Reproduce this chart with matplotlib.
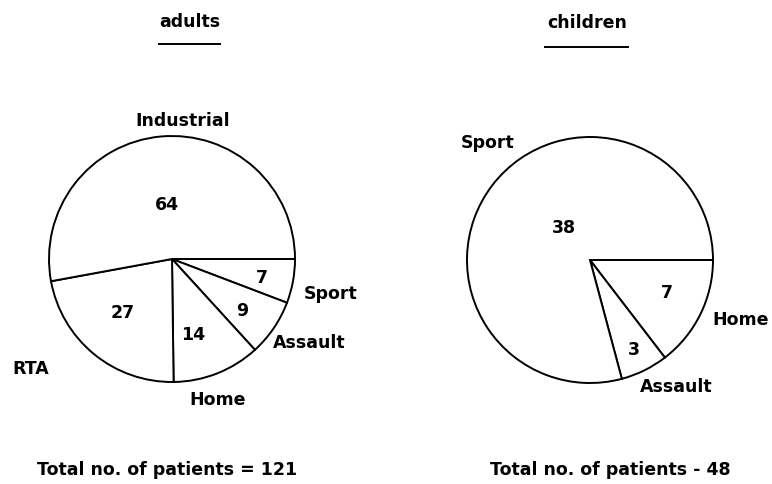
import matplotlib.pyplot as plt

# data
adult_labels = ["Sport", "Assault", "Home", "RTA", "Industrial"]
adult_counts = [7, 9, 14, 27, 64]
child_labels = ["Home", "Assault", "Sport"]
child_counts = [7, 3, 38]

# label positions (pixels) for each pie
adult_name_pos = [(331, 294), (309, 343), (218, 400), (31, 369), (183, 121)]
adult_num_pos = [(262, 278), (242, 311), (193, 335), (123, 313), (167, 205)]
child_name_pos = [(741, 320), (676, 387), (488, 143)]
child_num_pos = [(667, 293), (634, 350), (564, 228)]

plt.rcParams["font.family"] = ["DejaVu Sans"]
fs = 12.5

fig = plt.figure(figsize=(7.72, 4.84), dpi=100)
ax = fig.add_axes([0, 0, 1, 1])

# y axis is flipped below, so counterclock=True draws clockwise on screen
wp = dict(facecolor="white", edgecolor="black", linewidth=1.4)
ax.pie(adult_counts, center=(172, 259), radius=123, startangle=0,
       counterclock=True, wedgeprops=wp, frame=True)
ax.pie(child_counts, center=(590, 260), radius=123, startangle=0,
       counterclock=True, wedgeprops=wp, frame=True)

for lab, (x, y) in zip(adult_labels, adult_name_pos):
    ax.text(x, y, lab, ha="center", va="center", fontsize=fs, fontweight="bold")
for n, (x, y) in zip(adult_counts, adult_num_pos):
    ax.text(x, y, str(n), ha="center", va="center", fontsize=fs, fontweight="bold")
for lab, (x, y) in zip(child_labels, child_name_pos):
    ax.text(x, y, lab, ha="center", va="center", fontsize=fs, fontweight="bold")
for n, (x, y) in zip(child_counts, child_num_pos):
    ax.text(x, y, str(n), ha="center", va="center", fontsize=fs, fontweight="bold")

# headings with underlines
ax.text(190, 22, "adults", ha="center", va="center", fontsize=fs, fontweight="bold")
ax.plot([159, 220], [44, 44], color="black", lw=1.4)
ax.text(587, 23, "children", ha="center", va="center", fontsize=fs, fontweight="bold")
ax.plot([545, 628], [47, 47], color="black", lw=1.4)

ax.text(167, 470, "Total no. of patients = %d" % sum(adult_counts),
        ha="center", va="center", fontsize=fs, fontweight="bold")
ax.text(610, 470, "Total no. of patients - %d" % sum(child_counts),
        ha="center", va="center", fontsize=fs, fontweight="bold")

ax.set_xlim(0, 772)
ax.set_ylim(484, 0)
ax.set_aspect("auto")
ax.axis("off")

fig.savefig("out.png", dpi=100)
